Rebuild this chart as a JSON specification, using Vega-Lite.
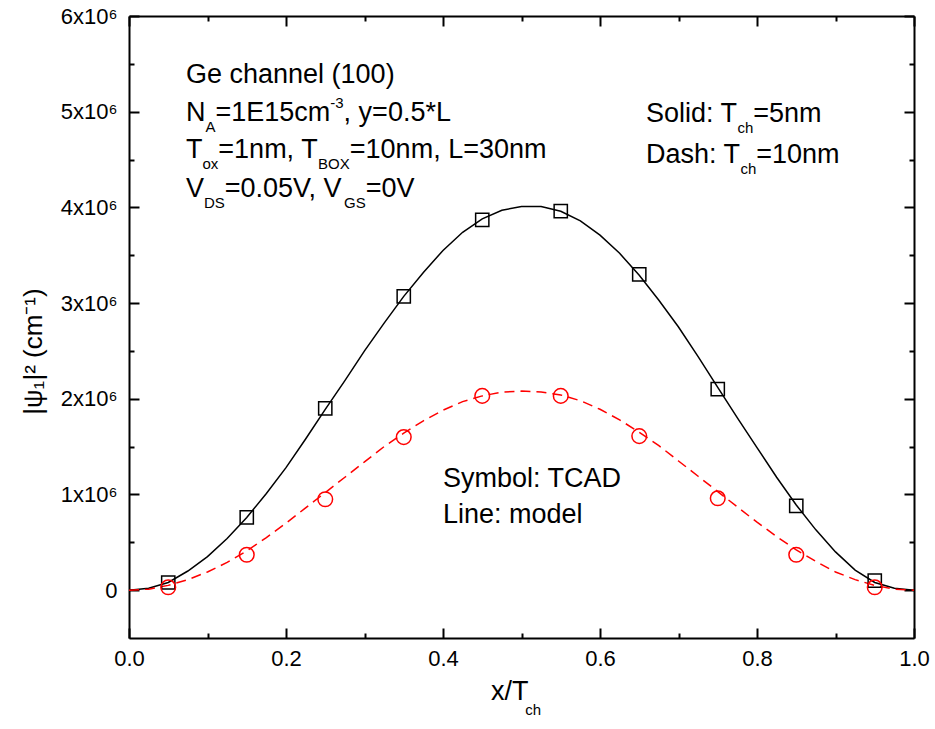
{
  "$schema": "https://vega.github.io/schema/vega-lite/v6.json",
  "width": 785,
  "height": 622,
  "autosize": "none",
  "padding": {"left": 129, "top": 16, "right": 21, "bottom": 91},
  "background": "white",
  "config": {
    "view": {"stroke": null},
    "font": "Liberation Sans",
    "axis": {
      "domainColor": "black",
      "domainWidth": 2,
      "tickColor": "black",
      "tickWidth": 2,
      "labelColor": "black",
      "labelFont": "Liberation Sans",
      "labelFontSize": 22,
      "grid": false
    }
  },
  "datasets": {
    "model5": [
      {"x": 0, "y": 0}, {"x": 0.025, "y": 20000}, {"x": 0.05, "y": 80000}, {"x": 0.075, "y": 200000},
      {"x": 0.1, "y": 350000}, {"x": 0.125, "y": 540000}, {"x": 0.15, "y": 760000}, {"x": 0.175, "y": 1010000},
      {"x": 0.2, "y": 1280000}, {"x": 0.225, "y": 1580000}, {"x": 0.25, "y": 1890000}, {"x": 0.275, "y": 2190000},
      {"x": 0.3, "y": 2500000}, {"x": 0.325, "y": 2790000}, {"x": 0.35, "y": 3070000}, {"x": 0.375, "y": 3320000},
      {"x": 0.4, "y": 3550000}, {"x": 0.425, "y": 3740000}, {"x": 0.45, "y": 3880000}, {"x": 0.475, "y": 3970000},
      {"x": 0.5, "y": 4010000}, {"x": 0.525, "y": 4010000}, {"x": 0.55, "y": 3960000}, {"x": 0.575, "y": 3860000},
      {"x": 0.6, "y": 3710000}, {"x": 0.625, "y": 3520000}, {"x": 0.65, "y": 3290000}, {"x": 0.675, "y": 3030000},
      {"x": 0.7, "y": 2750000}, {"x": 0.725, "y": 2440000}, {"x": 0.75, "y": 2120000}, {"x": 0.775, "y": 1800000},
      {"x": 0.8, "y": 1490000}, {"x": 0.825, "y": 1180000}, {"x": 0.85, "y": 890000}, {"x": 0.875, "y": 630000},
      {"x": 0.9, "y": 400000}, {"x": 0.925, "y": 210000}, {"x": 0.95, "y": 80000}, {"x": 0.975, "y": 20000},
      {"x": 1.0, "y": 0}
    ],
    "model10": [
      {"x": 0, "y": 0}, {"x": 0.025, "y": 10000}, {"x": 0.05, "y": 50000}, {"x": 0.075, "y": 110000},
      {"x": 0.1, "y": 190000}, {"x": 0.125, "y": 290000}, {"x": 0.15, "y": 410000}, {"x": 0.175, "y": 550000},
      {"x": 0.2, "y": 700000}, {"x": 0.225, "y": 860000}, {"x": 0.25, "y": 1020000}, {"x": 0.275, "y": 1180000},
      {"x": 0.3, "y": 1340000}, {"x": 0.325, "y": 1500000}, {"x": 0.35, "y": 1640000}, {"x": 0.375, "y": 1770000},
      {"x": 0.4, "y": 1880000}, {"x": 0.425, "y": 1970000}, {"x": 0.45, "y": 2030000}, {"x": 0.475, "y": 2070000},
      {"x": 0.5, "y": 2080000}, {"x": 0.525, "y": 2070000}, {"x": 0.55, "y": 2040000}, {"x": 0.575, "y": 1980000},
      {"x": 0.6, "y": 1890000}, {"x": 0.625, "y": 1780000}, {"x": 0.65, "y": 1650000}, {"x": 0.675, "y": 1510000},
      {"x": 0.7, "y": 1350000}, {"x": 0.725, "y": 1190000}, {"x": 0.75, "y": 1030000}, {"x": 0.775, "y": 870000},
      {"x": 0.8, "y": 710000}, {"x": 0.825, "y": 560000}, {"x": 0.85, "y": 420000}, {"x": 0.875, "y": 300000},
      {"x": 0.9, "y": 190000}, {"x": 0.925, "y": 110000}, {"x": 0.95, "y": 50000}, {"x": 0.975, "y": 10000},
      {"x": 1.0, "y": 0}
    ],
    "tcad5": [
      {"x": 0.05, "y": 80000}, {"x": 0.15, "y": 760000}, {"x": 0.25, "y": 1900000}, {"x": 0.35, "y": 3070000},
      {"x": 0.45, "y": 3870000}, {"x": 0.55, "y": 3960000}, {"x": 0.65, "y": 3300000}, {"x": 0.75, "y": 2100000},
      {"x": 0.85, "y": 880000}, {"x": 0.95, "y": 100000}
    ],
    "tcad10": [
      {"x": 0.05, "y": 30000}, {"x": 0.15, "y": 370000}, {"x": 0.25, "y": 950000}, {"x": 0.35, "y": 1600000},
      {"x": 0.45, "y": 2030000}, {"x": 0.55, "y": 2030000}, {"x": 0.65, "y": 1610000}, {"x": 0.75, "y": 960000},
      {"x": 0.85, "y": 370000}, {"x": 0.95, "y": 30000}
    ],
    "labels": [
      {"t": "Ge channel (100)", "x": 0.0726, "y": 5299500, "k": "m"},
      {"t": "N", "x": 0.0726, "y": 4902300, "k": "m"},
      {"t": "A", "x": 0.0975, "y": 4787300, "k": "s"},
      {"t": "=1E15cm", "x": 0.1102, "y": 4902300, "k": "m"},
      {"t": "-3", "x": 0.2564, "y": 5038100, "k": "s"},
      {"t": ", y=0.5*L", "x": 0.2734, "y": 4902300, "k": "m"},
      {"t": "T", "x": 0.0726, "y": 4515500, "k": "m"},
      {"t": "ox", "x": 0.0936, "y": 4400500, "k": "s"},
      {"t": "=1nm, T", "x": 0.1138, "y": 4515500, "k": "m"},
      {"t": "BOX", "x": 0.2409, "y": 4400500, "k": "s"},
      {"t": "=10nm, L=30nm", "x": 0.2813, "y": 4515500, "k": "m"},
      {"t": "V", "x": 0.0726, "y": 4107900, "k": "m"},
      {"t": "DS", "x": 0.0955, "y": 3992900, "k": "s"},
      {"t": "=0.05V, V", "x": 0.1220, "y": 4107900, "k": "m"},
      {"t": "GS", "x": 0.2740, "y": 3992900, "k": "s"},
      {"t": "=0V", "x": 0.3017, "y": 4107900, "k": "m"},
      {"t": "Solid: T", "x": 0.6586, "y": 4891800, "k": "m"},
      {"t": "ch", "x": 0.7752, "y": 4776800, "k": "s"},
      {"t": "=5nm", "x": 0.7953, "y": 4891800, "k": "m"},
      {"t": "Dash: T", "x": 0.6586, "y": 4463300, "k": "m"},
      {"t": "ch", "x": 0.7790, "y": 4348300, "k": "s"},
      {"t": "=10nm", "x": 0.7991, "y": 4463300, "k": "m"},
      {"t": "Symbol: TCAD", "x": 0.4, "y": 1076600, "k": "m"},
      {"t": "Line: model", "x": 0.4, "y": 700300, "k": "m"},
      {"t": "x/T", "x": 0.4611, "y": -1149800, "k": "m"},
      {"t": "ch", "x": 0.5048, "y": -1306600, "k": "s"}
    ]
  },
  "layer": [
    {
      "data": {"name": "model5"},
      "mark": {"type": "line", "color": "black", "strokeWidth": 1.5},
      "encoding": {
        "x": {
          "field": "x", "type": "quantitative",
          "scale": {"domain": [0, 1], "nice": false, "zero": false},
          "axis": {
            "orient": "bottom",
            "values": [0, 0.1, 0.2, 0.3, 0.4, 0.5, 0.6, 0.7, 0.8, 0.9, 1.0],
            "labelExpr": "round(datum.value*10)%2==0 ? format(datum.value,'.1f') : ''",
            "tickSize": {"condition": {"test": "round(datum.value*10)%2==0", "value": -10}, "value": -5},
            "labelPadding": 20,
            "labelFlush": false,
            "labelOverlap": false,
            "title": null
          }
        },
        "y": {
          "field": "y", "type": "quantitative",
          "scale": {"domain": [-500000, 6000000], "nice": false, "zero": false},
          "axis": {
            "orient": "left",
            "values": [0, 500000, 1000000, 1500000, 2000000, 2500000, 3000000, 3500000, 4000000, 4500000, 5000000, 5500000, 6000000],
            "labelExpr": "datum.value % 1000000 != 0 ? '' : (datum.value == 0 ? '0' : format(datum.value/1000000,'d') + 'x10⁶')",
            "tickSize": {"condition": {"test": "datum.value % 1000000 == 0", "value": -10}, "value": -5},
            "labelPadding": 22,
            "labelFlush": false,
            "labelOverlap": false,
            "title": "|ψ₁|² (cm⁻¹)",
            "titleFont": "Liberation Sans",
            "titleFontSize": 26,
            "titleFontWeight": "normal",
            "titleColor": "black",
            "titlePadding": 14,
            "titleY": 335
          }
        }
      }
    },
    {
      "data": {"name": "model10"},
      "mark": {"type": "line", "color": "#ff0000", "strokeWidth": 1.5, "strokeDash": [10, 6]},
      "encoding": {
        "x": {
          "field": "x", "type": "quantitative",
          "axis": {
            "orient": "top",
            "values": [0, 0.1, 0.2, 0.3, 0.4, 0.5, 0.6, 0.7, 0.8, 0.9, 1.0],
            "labels": false,
            "tickSize": {"condition": {"test": "round(datum.value*10)%2==0", "value": -10}, "value": -5},
            "title": null
          }
        },
        "y": {
          "field": "y", "type": "quantitative",
          "axis": {
            "orient": "right",
            "values": [0, 500000, 1000000, 1500000, 2000000, 2500000, 3000000, 3500000, 4000000, 4500000, 5000000, 5500000, 6000000],
            "labels": false,
            "tickSize": {"condition": {"test": "datum.value % 1000000 == 0", "value": -10}, "value": -5},
            "title": null
          }
        }
      }
    },
    {
      "data": {"name": "tcad5"},
      "mark": {"type": "point", "shape": "square", "filled": false, "color": "black", "strokeWidth": 1.5, "size": 175, "opacity": 1},
      "encoding": {
        "x": {"field": "x", "type": "quantitative", "axis": null},
        "y": {"field": "y", "type": "quantitative", "axis": null}
      }
    },
    {
      "data": {"name": "tcad10"},
      "mark": {"type": "point", "shape": "circle", "filled": false, "color": "#ff0000", "strokeWidth": 1.5, "size": 215, "opacity": 1},
      "encoding": {
        "x": {"field": "x", "type": "quantitative", "axis": null},
        "y": {"field": "y", "type": "quantitative", "axis": null}
      }
    },
    {
      "data": {"name": "labels"},
      "mark": {"type": "text", "align": "left", "baseline": "alphabetic", "font": "Liberation Sans", "color": "black"},
      "encoding": {
        "x": {"field": "x", "type": "quantitative", "axis": null},
        "y": {"field": "y", "type": "quantitative", "axis": null},
        "text": {"field": "t", "type": "nominal"},
        "size": {"field": "k", "type": "nominal", "scale": {"domain": ["m", "s"], "range": [27, 15]}, "legend": null}
      }
    }
  ],
  "resolve": {"axis": {"x": "independent", "y": "independent"}}
}
